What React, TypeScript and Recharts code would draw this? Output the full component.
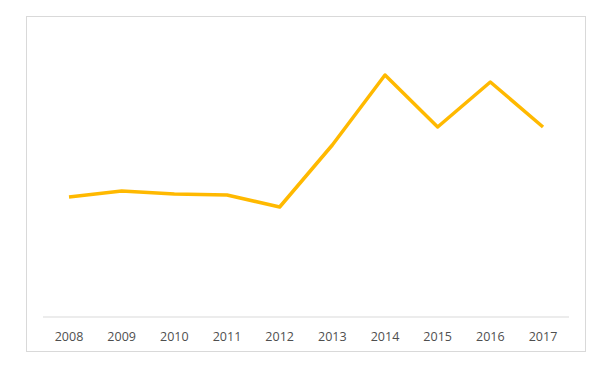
import { LineChart, Line, XAxis, YAxis } from 'recharts';

const years = ['2008', '2009', '2010', '2011', '2012', '2013', '2014', '2015', '2016', '2017'];
const values = [120, 126, 123, 122, 110, 172, 242, 190, 235, 190];

const data = years.map((year, i) => ({ year, value: values[i] }));

export default function App() {
  return (
    <div style={{ paddingTop: 8, paddingLeft: 18 }}>
      <div
        style={{
          width: 560,
          height: 336,
          boxSizing: 'border-box',
          border: '1px solid #d9d9d9',
          background: '#fff',
        }}
      >
        <LineChart width={558} height={334} data={data} margin={{ top: 13, right: 16, bottom: 4, left: 16 }}>
          <XAxis
            dataKey="year"
            height={30}
            tickLine={false}
            tickMargin={9}
            padding={{ left: 26, right: 26 }}
            axisLine={{ stroke: '#d9d9d9', strokeWidth: 1 }}
            tick={{ fill: '#4f4f4f', fontSize: 12.5, fontFamily: 'Open Sans' }}
            interval={0}
          />
          <YAxis hide domain={[0, 287]} />
          <Line
            type="linear"
            dataKey="value"
            stroke="#FFB900"
            strokeWidth={3.5}
            strokeLinejoin="round"
            dot={false}
            activeDot={false}
            isAnimationActive={false}
          />
        </LineChart>
      </div>
    </div>
  );
}
